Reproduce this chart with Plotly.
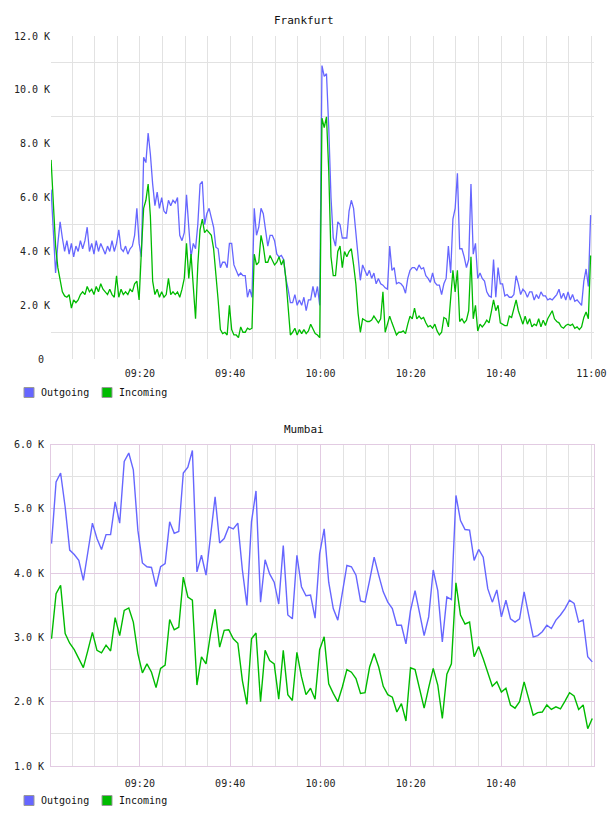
import pandas as pd
import plotly.graph_objects as go

# ---------------- data (values in thousands) ----------------
fra_outgoing = [
    6.3, 4.8, 3.2, 4.3, 5.1, 4.5, 4.0, 4.4, 3.9, 4.3,
    3.8, 4.2, 4.0, 4.4, 4.1, 4.4, 4.9, 4.0, 4.3, 3.9,
    4.4, 4.0, 4.3, 4.1, 3.9, 4.2, 4.0, 4.4, 4.0, 4.3,
    4.8, 4.1, 4.0, 4.2, 3.9, 4.1, 4.2, 4.6, 5.6, 4.3,
    3.8, 7.5, 7.3, 8.4, 7.6, 6.5, 5.7, 6.2, 5.6, 6.0,
    5.5, 5.4, 5.9, 5.7, 5.9, 5.8, 6.0, 4.6, 4.4, 4.7,
    6.1, 4.9, 3.8, 4.3, 4.1, 5.0, 6.5, 6.6, 5.0, 5.4,
    5.6, 5.25, 4.9, 4.16, 4.1, 3.4, 3.6, 3.6, 3.4, 4.3,
    4.3, 3.5, 3.3, 3.1, 3.2, 3.1, 3.1, 2.3, 2.6, 2.3,
    5.6, 4.6, 4.9, 5.6, 5.4, 4.85, 4.2, 4.6, 4.6, 4.4,
    3.9, 3.8, 3.85, 3.7, 3.0, 2.6, 2.1, 2.1, 2.4, 2.0,
    2.2, 2.0, 2.3, 1.8, 2.2, 2.2, 2.7, 2.3, 2.7, 2.0,
    10.9, 10.5, 10.6, 8.6, 6.0, 4.5, 4.2, 5.1, 5.0, 4.5,
    4.5, 4.5, 5.5, 5.9, 5.6, 4.6, 3.8, 2.93, 3.5, 3.3,
    3.1, 3.3, 3.0, 3.2, 2.8, 3.0, 2.8, 2.75, 2.65, 2.6,
    4.2, 3.3, 3.4, 2.8, 2.85, 2.8, 2.7, 2.45, 3.0, 3.3,
    3.4, 3.4, 3.3, 3.5, 3.35, 3.4, 3.1, 3.0, 2.85, 3.2,
    2.85, 2.75, 2.75, 2.4, 2.8, 3.0, 4.2, 3.2, 5.2, 5.6,
    6.9, 4.1, 4.1, 3.8, 3.4, 3.7, 6.5, 3.9, 4.3, 3.0,
    3.2, 3.0, 2.9, 2.5, 2.35, 2.3, 3.7, 2.3, 3.4, 2.8,
    2.8, 2.35, 2.4, 2.3, 2.3, 2.4, 3.1, 2.8, 2.4, 2.6,
    2.5, 2.3, 2.5, 2.5, 2.2, 2.4, 2.25, 2.5, 2.35, 2.35,
    2.2, 2.25, 2.2, 2.3, 2.4, 2.6, 2.25, 2.45, 2.2, 2.5,
    2.2, 2.4, 2.15, 2.2, 2.1, 2.0, 2.9, 3.35, 2.7, 5.35,
]
fra_incoming = [
    7.4, 5.6, 4.2, 3.4, 2.9, 2.5, 2.35, 2.3, 2.4, 1.9,
    2.2, 2.1, 2.2, 2.4, 2.5, 2.4, 2.7, 2.5, 2.6, 2.4,
    2.7, 2.5, 2.8, 2.6, 2.5, 2.4, 2.6, 2.4, 2.3, 3.1,
    2.3, 2.6, 2.4, 2.5, 2.4, 2.6, 2.5, 2.8, 2.9, 2.2,
    4.0, 5.6, 5.9, 6.5, 5.3, 2.9, 2.4, 2.6, 2.3, 2.5,
    2.3, 2.4, 3.0, 2.4, 2.5, 2.4, 2.5, 2.3, 2.6, 3.0,
    4.3, 3.0, 3.9, 2.5, 1.5, 3.5, 4.8, 5.2, 4.7, 4.8,
    4.7, 4.6, 4.1, 3.2, 2.2, 1.1, 0.95, 1.0, 0.9, 2.0,
    1.1, 0.9, 0.9, 0.8, 1.2, 1.0, 1.0, 1.15, 1.1, 1.15,
    3.9, 3.5, 3.6, 4.6, 4.2, 3.6, 3.6, 3.85, 3.7, 3.5,
    3.6, 3.8, 3.5, 3.7, 3.0, 2.0, 0.9, 1.0, 1.15, 0.9,
    1.1, 0.95, 1.1, 0.95, 1.05, 1.3, 1.1, 0.95, 0.9, 0.8,
    8.95, 8.6, 9.0, 7.0, 3.8, 3.1, 3.1, 4.0, 4.2, 3.4,
    4.0, 3.8, 4.0, 4.1, 3.5, 2.8, 1.7, 1.0, 1.5, 1.45,
    1.4, 1.4, 1.45, 1.6, 1.45, 1.35, 1.5, 2.5, 1.0, 1.3,
    1.6, 1.35, 1.1, 0.9, 1.0, 1.0, 1.05, 0.95, 1.3, 1.6,
    1.5, 1.9, 1.5, 1.6, 1.5, 1.55, 1.35, 1.2, 1.25, 1.15,
    1.3, 1.05, 0.9, 1.0, 1.55, 1.5, 1.2, 2.4, 3.3, 2.5,
    3.3, 1.4, 1.5, 1.35, 1.45, 1.8, 3.8, 1.5, 2.0, 1.05,
    1.3, 1.2, 1.3, 1.45, 1.35, 1.75, 2.2, 1.8, 2.0, 1.35,
    1.3, 1.25, 1.25, 1.6, 1.55, 1.9, 2.2, 1.8, 1.5, 1.3,
    1.6, 1.3, 1.5, 1.2, 1.3, 1.25, 1.5, 1.2, 1.45, 1.25,
    1.5, 1.65, 1.8, 1.5, 1.4, 1.35, 1.2, 1.15, 1.25, 1.3,
    1.25, 1.3, 1.15, 1.2, 1.1, 1.2, 1.55, 1.75, 1.5, 3.85,
]
mum_outgoing = [
    4.46, 5.42, 5.56, 5.03, 4.36, 4.29, 4.2, 3.89, 4.33, 4.78,
    4.54, 4.37, 4.6, 4.6, 5.11, 4.78, 5.74, 5.87, 5.61, 4.67,
    4.16, 4.1, 4.09, 3.79, 4.1, 4.15, 4.8, 4.62, 4.65, 5.56,
    5.65, 5.91, 4.02, 4.28, 3.97, 4.62, 5.19, 4.47, 4.54, 4.72,
    4.69, 4.78, 4.05, 3.5, 4.8, 5.28, 3.55, 4.21, 3.99, 3.86,
    3.52, 4.43, 3.35, 3.29, 4.28, 3.79,
    3.65, 3.66, 3.3, 4.3, 4.69, 3.86, 3.45, 3.27, 3.68, 4.12,
    4.1, 3.97, 3.57, 3.55, 3.89, 4.25, 3.97, 3.71, 3.55, 3.45,
    3.19, 3.19, 2.9, 3.42, 3.73, 3.37, 3.03, 3.32, 4.05, 3.73,
    2.93, 3.63, 3.59, 5.21, 4.82, 4.68, 4.67, 4.2, 4.37, 4.25,
    3.76, 3.55, 3.74, 3.32, 3.58, 3.29, 3.24, 3.29, 3.71, 3.35,
    3.01, 3.03, 3.09, 3.19, 3.14, 3.27, 3.35, 3.45, 3.58, 3.53,
    3.24, 3.27, 2.7, 2.62,
]
mum_incoming = [
    2.98, 3.68, 3.81, 3.06, 2.91, 2.81, 2.67, 2.53, 2.8, 3.08,
    2.8, 2.76, 2.88, 2.79, 3.31, 3.03, 3.42, 3.46, 3.24, 2.75,
    2.45, 2.59, 2.46, 2.22, 2.52, 2.57, 3.28, 3.12, 3.16, 3.94,
    3.63, 3.58, 2.26, 2.7, 2.59, 3.06, 3.44, 2.85, 3.11, 3.12,
    2.98, 2.91, 2.33, 1.96, 2.98, 3.07, 2.0, 2.8, 2.64, 2.59,
    2.04, 2.8, 2.11, 2.02, 2.77, 2.39,
    2.11, 2.21, 2.04, 2.81, 3.01, 2.28, 2.13, 2.0, 2.23, 2.5,
    2.46, 2.36, 2.13, 2.14, 2.54, 2.75, 2.54, 2.24, 2.11, 2.07,
    1.84, 1.97, 1.7, 2.53, 2.5, 2.19, 1.9, 2.22, 2.52, 2.26,
    1.74, 2.43, 2.59, 3.85, 3.35, 3.21, 3.24, 2.7, 2.86, 2.67,
    2.46, 2.24, 2.31, 2.15, 2.21, 1.95, 1.9, 2.0, 2.31, 2.05,
    1.79, 1.83, 1.84, 1.95, 1.88, 1.92, 1.89, 2.01, 2.14, 2.09,
    1.88, 1.95, 1.58, 1.74,
]

series_names = ["Outgoing", "Incoming"]
chart_titles = ["Frankfurt", "Mumbai"]

fra_time = pd.date_range("2024-01-01 09:00:20", periods=len(fra_outgoing), freq="30s")
mum_time = pd.date_range("2024-01-01 09:00:26", "2024-01-01 11:00:12", periods=len(mum_outgoing))

fra_ytick_vals = [0, 2, 4, 6, 8, 10, 12]
fra_ytick_text = ["0\u00a0", "2.0 K", "4.0 K", "6.0 K", "8.0 K", "10.0 K", "12.0 K"]
mum_ytick_vals = [1, 2, 3, 4, 5, 6]
mum_ytick_text = ["1.0 K", "2.0 K", "3.0 K", "4.0 K", "5.0 K", "6.0 K"]
fra_xtick_vals = ["2024-01-01 09:20", "2024-01-01 09:40", "2024-01-01 10:00",
                  "2024-01-01 10:20", "2024-01-01 10:40", "2024-01-01 11:00"]
mum_xtick_vals = fra_xtick_vals[:-1]

# ---------------- styling ----------------
OUT_C = "#6666ff"
IN_C = "#00bb00"
MONO = "DejaVu Sans Mono"
GRID = "#e2e2e2"
LAV = "#e2cbe2"
W, H = 608, 816
ML, MR, MT, MB = 51, 14, 36, 50
PW, PH = W - ML - MR, H - MT - MB

def px(x):
    return (x - ML) / PW

def py(y):
    return (H - MB - y) / PH

minor_x = pd.date_range("2024-01-01 09:05", "2024-01-01 11:00", freq="5min")
x_range = ["2024-01-01 09:00:19", "2024-01-01 11:00:35"]

fig = go.Figure()
fig.add_trace(go.Scatter(x=fra_time, y=fra_outgoing, mode="lines", name=series_names[0],
                         line=dict(color=OUT_C, width=1.3), xaxis="x", yaxis="y", showlegend=False))
fig.add_trace(go.Scatter(x=fra_time, y=fra_incoming, mode="lines", name=series_names[1],
                         line=dict(color=IN_C, width=1.3), xaxis="x", yaxis="y", showlegend=False))
fig.add_trace(go.Scatter(x=mum_time, y=mum_outgoing, mode="lines", name=series_names[0],
                         line=dict(color=OUT_C, width=1.4), xaxis="x2", yaxis="y2", showlegend=False))
fig.add_trace(go.Scatter(x=mum_time, y=mum_incoming, mode="lines", name=series_names[1],
                         line=dict(color=IN_C, width=1.4), xaxis="x2", yaxis="y2", showlegend=False))

tickfont = dict(family=MONO, size=10, color="#222")
fra_bottom = py(359.2)
mum_top = py(444.7)

fig.update_layout(
    width=W, height=H,
    margin=dict(l=ML, r=MR, t=MT, b=MB, autoexpand=False),
    paper_bgcolor="white", plot_bgcolor="white",
    xaxis=dict(domain=[0, 1], anchor="y", type="date", range=x_range, automargin=False,
               tickvals=fra_xtick_vals, tickformat="%H:%M", ticks="",
               showgrid=True, gridcolor=GRID, gridwidth=1, zeroline=False, showline=False,
               tickfont=tickfont, ticklabelstandoff=7,
               minor=dict(tickvals=list(minor_x), showgrid=True, gridcolor=GRID, gridwidth=1)),
    yaxis=dict(domain=[fra_bottom, 1], anchor="x", range=[0, 12], automargin=False,
               tickvals=fra_ytick_vals, ticktext=fra_ytick_text, ticks="",
               showgrid=False, zeroline=False, showline=False, tickfont=tickfont,
               minor=dict(tickvals=[1, 3, 5, 7, 9, 11], showgrid=True, gridcolor=GRID, gridwidth=1)),
    xaxis2=dict(domain=[0, 1], anchor="y2", type="date", range=x_range, automargin=False,
                tickvals=mum_xtick_vals, tickformat="%H:%M", ticks="",
                showgrid=True, gridcolor=LAV, gridwidth=1, zeroline=False,
                showline=True, mirror=True, linecolor=LAV, linewidth=1,
                tickfont=tickfont, ticklabelstandoff=8,
                minor=dict(tickvals=list(minor_x), showgrid=True, gridcolor=GRID, gridwidth=1)),
    yaxis2=dict(domain=[0, mum_top], anchor="x2", range=[1, 6], automargin=False,
                tickvals=mum_ytick_vals, ticktext=mum_ytick_text, ticks="",
                showgrid=True, gridcolor=LAV, gridwidth=1, zeroline=False,
                showline=True, mirror=True, linecolor=LAV, linewidth=1, tickfont=tickfont,
                ticklabelstandoff=4,
                minor=dict(tickvals=[1.5, 2.5, 3.5, 4.5, 5.5], showgrid=True, gridcolor=GRID, gridwidth=1)),
    showlegend=False,
)

# titles
for title, ty in zip(chart_titles, [20, 429]):
    fig.add_annotation(text=title, xref="paper", yref="paper", x=px(304), y=py(ty),
                       xanchor="center", yanchor="middle", showarrow=False,
                       font=dict(family=MONO, size=11, color="#111"))

# legends (square swatch + label) under each chart
for ly in [392.5, 800.5]:
    for name, col, sx in zip(series_names, [OUT_C, IN_C], [24, 102]):
        fig.add_shape(type="rect", xref="paper", yref="paper",
                      x0=px(sx), x1=px(sx + 10), y0=py(ly + 5), y1=py(ly - 5),
                      fillcolor=col, line=dict(color="#999", width=1))
        fig.add_annotation(text=name, xref="paper", yref="paper", x=px(sx + 15), y=py(ly),
                           xanchor="left", yanchor="middle", showarrow=False,
                           font=dict(family=MONO, size=10, color="#111"))

fig.write_html("out.html")
